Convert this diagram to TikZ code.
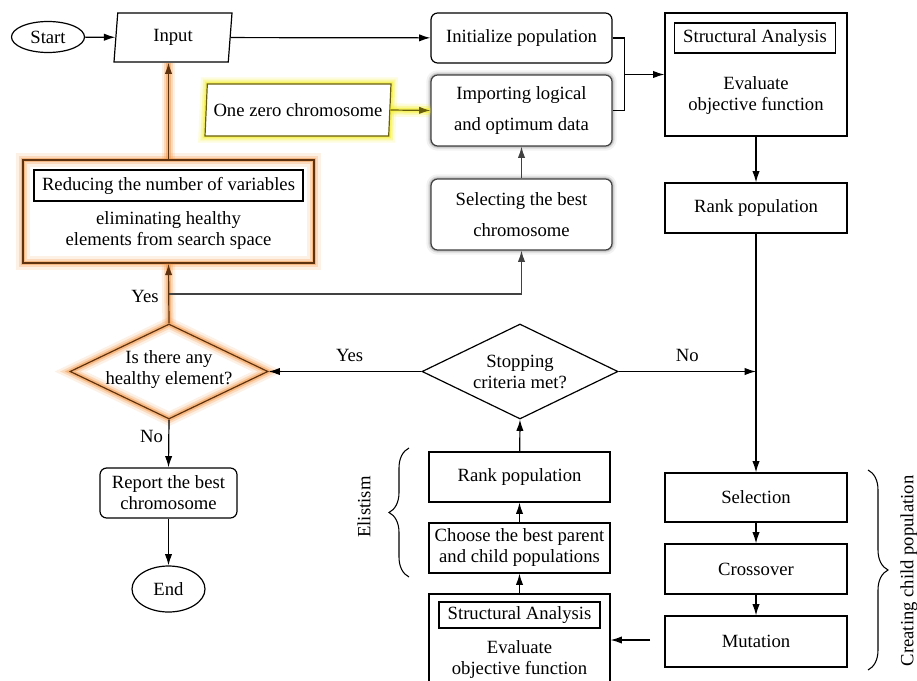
\documentclass[tikz,border=0pt]{standalone}
\usepackage{fontspec}
\setmainfont{Liberation Serif}
\usetikzlibrary{shapes.geometric,arrows.meta,decorations.pathreplacing,calc}
\definecolor{glowO}{RGB}{245,150,70}
\definecolor{brO}{RGB}{95,50,15}
\definecolor{glowY}{RGB}{245,240,40}
\definecolor{olv}{RGB}{105,95,10}
\definecolor{dg}{RGB}{65,65,65}
\begin{document}
\begin{tikzpicture}[x=0.75pt,y=-0.75pt,
  every node/.style={font=\fontsize{14}{15.75}\selectfont, align=center, inner sep=0pt},
  bw/.style={minimum width=#1*0.75pt},
  bh/.style={minimum height=#1*0.75pt},
  box/.style={draw, rectangle, line width=0.9pt},
  rbox/.style={box, rounded corners=5pt},
  term/.style={draw, ellipse, line width=0.9pt},
  io/.style={draw, trapezium, trapezium stretches body, line width=0.9pt},
  dec/.style={draw, diamond, line width=0.9pt},
  arr/.style={-{Latex[length=8.5pt,width=5.5pt]}, line width=0.9pt},
  oglow/.style={preaction={draw=glowO, -, line width=10pt, opacity=0.14},
                preaction={draw=glowO, -, line width=6.5pt, opacity=0.25},
                preaction={draw=glowO, -, line width=3.5pt, opacity=0.5}},
  yglow/.style={preaction={draw=glowY, -, line width=10pt, opacity=0.16},
                preaction={draw=glowY, -, line width=6.5pt, opacity=0.3},
                preaction={draw=glowY, -, line width=3.5pt, opacity=0.55}},
  shad/.style={preaction={draw=black, -, line width=7pt, opacity=0.05},
               preaction={draw=black, -, line width=4pt, opacity=0.1},
               preaction={draw=black, -, line width=2pt, opacity=0.15}},
  brc/.style={decorate, decoration={brace, amplitude=15pt}, line width=0.8pt}
]
\fill[white] (0,0) rectangle (917,681);
\clip (0,0) rectangle (917,681);

% nodes
\node[term, bw=73, bh=31] (start) at (48,37) {Start};
\node[io, trapezium left angle=77, trapezium right angle=103, bw=118, bh=49] (input) at (173,37.5) {Input};
\node[rbox, bw=181, bh=50] (init) at (521.5,38) {Initialize population};
\node[rbox, shad, fill=white, draw=dg, bw=181, bh=71] (import) at (521.5,110.5) {Importing logical\\[8pt]and optimum data};
\node[rbox, shad, fill=white, draw=dg, bw=181, bh=71] (select) at (521.5,214.5) {Selecting the best\\[8pt]chromosome};
\node[io, yglow, draw=olv, fill=white, trapezium left angle=80, trapezium right angle=100, bw=186, bh=52] (onezero) at (298,110) {One zero chromosome};

\node[box, bw=182, bh=123] (sa1) at (756,74.5) {};
\node[box, bw=161, bh=30] (sa1h) at (755,38) {Structural Analysis};
\node (sa1t) at (756,96) {Evaluate\\objective function};
\node[box, bw=182, bh=50] (rank1) at (756,208) {Rank population};

\node[dec, bw=196, bh=95] (stop) at (520,371.5) {};
\node (stopt) at (520,372) {Stopping\\criteria met?};
\node[dec, oglow, draw=brO, bw=198, bh=95] (healthy) at (169,371.5) {};
\node (healthyt) at (169,369.5) {Is there any\\healthy element?};

\node[box, oglow, draw=brO, line width=1.2pt, bw=291, bh=103] (reduce) at (168.5,211.5) {};
\node[box, bw=269, bh=31] (reduceh) at (168.5,185.5) {Reducing the number of variables};
\node (reducet) at (168.5,231) {eliminating healthy\\elements from search space};

\node[rbox, bw=137, bh=50] (report) at (168.5,493) {Report the best\\chromosome};
\node[term, bw=73, bh=46] (endn) at (168.5,589) {End};

\node[box, bw=181, bh=50] (rank2) at (519.5,477) {Rank population};
\node[box, bw=181, bh=50] (choose) at (519.5,548) {Choose the best parent\\and child populations};
\node[box, bw=181, bh=105] (sa2) at (519.5,646.5) {};
\node[box, bw=161, bh=26] (sa2h) at (519.5,615) {Structural Analysis};
\node (sa2t) at (519.5,660) {Evaluate\\objective function};

\node[box, bw=182, bh=49] (sel) at (756,497.5) {Selection};
\node[box, bw=182, bh=50] (cross) at (756,569) {Crossover};
\node[box, bw=182, bh=51] (mut) at (756,641.5) {Mutation};

\node[rotate=90] (elit) at (364,507) {Elistism};
\node[rotate=90] (ccp) at (909,571) {Creating child population};

% connectors
\draw[arr] (start) -- (input);
\draw[arr] (input) -- (init);
\coordinate (jn) at (624,74.5);
\draw[line width=0.9pt] (init.east) -- ++(12,0) |- (import.east);
\draw[arr] (jn) -- (sa1.west);
\draw[arr] (sa1) -- (rank1);
\draw[arr] (rank1) -- (sel);
\draw[arr] (sel) -- (cross);
\draw[arr] (cross) -- (mut);
\coordinate (mutl) at (650,640);
\draw[arr] (mutl) -- (mutl -| sa2.east);
\draw[arr] (sa2) -- (choose);
\draw[arr] (choose) -- (rank2);
\draw[arr] (rank2) -- (stop.south);
\coordinate (nojoin) at (rank1.south |- stop.east);
\draw[arr] (stop.east) -- node[above=7pt, pos=0.5] (nolab) {No} (nojoin);
\draw[arr] (stop.west) -- node[above=7pt, pos=0.47] (yeslab) {Yes} (healthy.east);
\draw[arr] (healthy.south) -- node[left=4pt, pos=0.35] (nolab2) {No} (report.north);
\draw[arr] (report) -- (endn);

% glowing orange path
\draw[oglow, arr, draw=brO] (healthy.north) -- (reduce.south);
\draw[oglow, arr, draw=brO] (reduce.north) -- (reduce.north |- input.south);
\node (yeslab2) at (145,296) {Yes};
\coordinate (br) at (168.5,294);
\draw[arr, draw=dg] (br) -| (select.south);
\draw[arr, draw=dg] (select) -- (import);
% yellow glowing arrow
\draw[yglow, arr, draw=olv] (onezero.east) -- (import.west);

% braces
\coordinate (eb1) at (409,577);
\coordinate (eb2) at (409,448);
\draw[brc] (eb1) -- (eb2);
\coordinate (cb1) at (868,470);
\coordinate (cb2) at (868,670);
\draw[brc] (cb1) -- (cb2);
\end{tikzpicture}
\end{document}
